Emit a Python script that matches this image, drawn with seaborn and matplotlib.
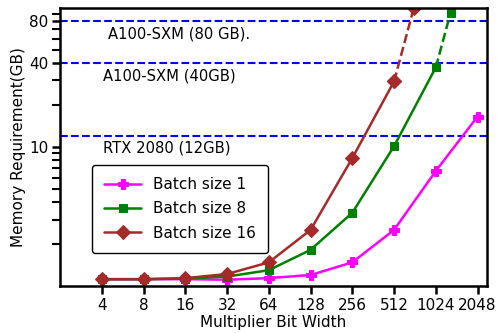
import matplotlib
matplotlib.use('Agg')
import matplotlib.pyplot as plt
import matplotlib.ticker as mticker
import seaborn as sns

# data
bits = [4, 8, 16, 32, 64, 128, 256, 512, 1024, 2048]
mem_b1 = [1.12, 1.12, 1.12, 1.11, 1.14, 1.20, 1.48, 2.53, 6.7, 16.5]
bits_b8 = [4, 8, 16, 32, 64, 128, 256, 512, 1024]
mem_b8 = [1.12, 1.12, 1.13, 1.17, 1.30, 1.82, 3.36, 10.1, 37.2]
bits_b16 = [4, 8, 16, 32, 64, 128, 256, 512]
mem_b16 = [1.12, 1.12, 1.14, 1.22, 1.48, 2.53, 8.3, 29.5]
# dashed extrapolation beyond the last measured point
ext_b8_x = [1024, 1310]
ext_b8_y = [37.2, 92.0]
ext_b16_x = [512, 712]
ext_b16_y = [29.5, 100.0]

gpu_names = ['A100-SXM (80 GB).', 'A100-SXM (40GB)', 'RTX 2080 (12GB)']
gpu_mem = [80, 40, 12]
gpu_text_x = [4.4, 4.05, 4.05]
gpu_text_y = [65, 32.4, 9.8]

sns.set_style('ticks')
plt.rcParams['font.family'] = ['DejaVu Sans']
plt.rcParams['text.color'] = 'black'
plt.rcParams['axes.labelcolor'] = 'black'
plt.rcParams['xtick.color'] = 'black'
plt.rcParams['ytick.color'] = 'black'

fig = plt.figure(figsize=(4.97, 3.33), dpi=100)
ax = fig.add_axes([0.121, 0.141, 0.859, 0.836])

c1, c8, c16 = '#ff00ff', '#008000', '#a52a2a'
lw = 1.8

sns.lineplot(x=bits, y=mem_b1, marker='P', color=c1, lw=lw, markersize=6.5,
             markeredgecolor=c1, label='Batch size 1', ax=ax)
sns.lineplot(x=bits_b8, y=mem_b8, marker='s', color=c8, lw=lw, markersize=5.5,
             markeredgecolor=c8, label='Batch size 8', ax=ax)
sns.lineplot(x=ext_b8_x, y=ext_b8_y, marker='s', color=c8, lw=lw, markersize=5.5,
             markeredgecolor=c8, linestyle='--', ax=ax)
sns.lineplot(x=bits_b16, y=mem_b16, marker='D', color=c16, lw=lw, markersize=7,
             markeredgecolor=c16, label='Batch size 16', ax=ax)
sns.lineplot(x=ext_b16_x, y=ext_b16_y, marker='D', color=c16, lw=lw, markersize=7,
             markeredgecolor=c16, linestyle='--', ax=ax)

for name, m, tx, ty in zip(gpu_names, gpu_mem, gpu_text_x, gpu_text_y):
    ax.axhline(m, color='blue', linestyle='--', lw=1.5, zorder=1)
    ax.text(tx, ty, name, fontsize=10.6, va='center', ha='left')

ax.set_xscale('log', base=2)
ax.set_yscale('log')
ax.set_xlim(2, 2400)
ax.set_ylim(1, 100)
ax.set_xticks(bits)
ax.set_xticklabels([str(b) for b in bits])
ax.xaxis.set_minor_locator(mticker.NullLocator())
ax.set_yticks([10, 40, 80])
ax.set_yticklabels(['10', '40', '80'])
ax.yaxis.set_minor_formatter(mticker.NullFormatter())

ax.tick_params(axis='both', which='major', labelsize=11, length=6, width=1.8,
               direction='out', pad=2.5)
ax.tick_params(axis='y', which='minor', length=6, width=1.5)
for sp in ax.spines.values():
    sp.set_linewidth(1.8)
    sp.set_color('black')

ax.set_xlabel('Multiplier Bit Width', fontsize=11, labelpad=1.5)
ax.set_ylabel('Memory Requirement(GB)', fontsize=11, labelpad=2)

leg = ax.legend(loc='upper left', bbox_to_anchor=(0.075, 0.435), borderaxespad=0,
                fontsize=11, handlelength=2.4, frameon=True, framealpha=1,
                borderpad=0.8, labelspacing=0.6)
leg.get_frame().set_edgecolor('black')
leg.get_frame().set_linewidth(1.0)

fig.savefig('out.png', dpi=100)
